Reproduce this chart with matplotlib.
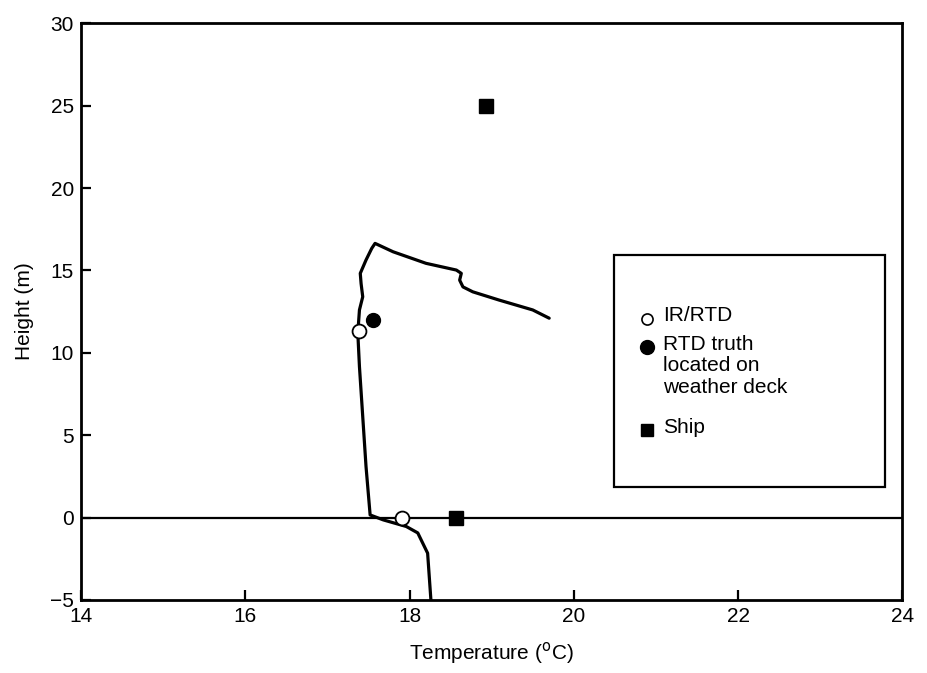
import matplotlib.pyplot as plt
from matplotlib.patches import Rectangle

plt.rcParams['font.family'] = ['Liberation Sans', 'DejaVu Sans']

# temperature profile through the air / water interface
profile_temp = [18.26, 18.22, 18.10, 17.96, 17.68, 17.52, 17.47, 17.43, 17.39, 17.37,
                17.39, 17.43, 17.41, 17.40, 17.47, 17.54, 17.58, 17.80, 18.20,
                18.57, 18.63, 18.61, 18.65, 18.77, 19.09, 19.50, 19.70]
profile_height = [-5.0, -2.16, -0.93, -0.54, -0.14, 0.16, 3.1, 6.13, 9.16, 11.2,
                  12.6, 13.4, 14.2, 14.82, 15.63, 16.34, 16.64, 16.13, 15.43,
                  15.02, 14.82, 14.41, 14.0, 13.7, 13.2, 12.6, 12.1]

ir_temp = [17.39, 17.91]
ir_height = [11.3, 0.0]
truth_temp = [17.56]
truth_height = [12.0]
ship_temp = [18.93, 18.56]
ship_height = [25.0, 0.0]

key_labels = ['IR/RTD', 'RTD truth\nlocated on\nweather deck', 'Ship']

fig = plt.figure(figsize=(9.27, 6.73), dpi=100)
ax = fig.add_axes([0.0874, 0.1085, 0.886, 0.857])

ax.axhline(0, color='black', lw=1.6, zorder=1)
ax.plot(profile_temp, profile_height, color='black', lw=2.3,
        solid_joinstyle='round', solid_capstyle='round', zorder=2)
ax.plot(ir_temp, ir_height, 'o', ms=10, mfc='white', mec='black', mew=1.3, zorder=3)
ax.plot(truth_temp, truth_height, 'o', ms=10, color='black', zorder=3)
ax.plot(ship_temp, ship_height, 's', ms=9.5, color='black', zorder=3)

ax.set_xlim(14, 24)
ax.set_ylim(-5, 30)
ax.set_xticks([14, 16, 18, 20, 22, 24])
ax.set_yticks([-5, 0, 5, 10, 15, 20, 25, 30])
ax.set_yticklabels(['\u22125', '0', '5', '10', '15', '20', '25', '30'])
ax.tick_params(direction='in', length=7, width=1.6, labelsize=15, pad=5)
for s in ax.spines.values():
    s.set_linewidth(2)

ax.set_xlabel('Temperature ($^{\\rm o}$C)', fontsize=15, labelpad=10)
ax.set_ylabel('Height (m)', fontsize=15, labelpad=12)

# key box, drawn by hand so the marker sits on the first text line
ax.add_patch(Rectangle((0.649, 0.196), 0.33, 0.402, transform=ax.transAxes,
                       fill=False, lw=1.6, color='black', zorder=4))
kw = dict(transform=ax.transAxes, clip_on=False, zorder=5)
ax.plot([0.689], [0.488], 'o', ms=8, mfc='white', mec='black', mew=1.2, **kw)
ax.plot([0.689], [0.438], 'o', ms=10, color='black', **kw)
ax.plot([0.689], [0.295], 's', ms=9, color='black', **kw)
for y, lab in zip([0.488, 0.438, 0.295], key_labels):
    ax.text(0.709, y + 0.021, lab, transform=ax.transAxes, fontsize=15,
            va='top', ha='left', linespacing=1.15, zorder=5)

fig.savefig('out.png', dpi=100)
